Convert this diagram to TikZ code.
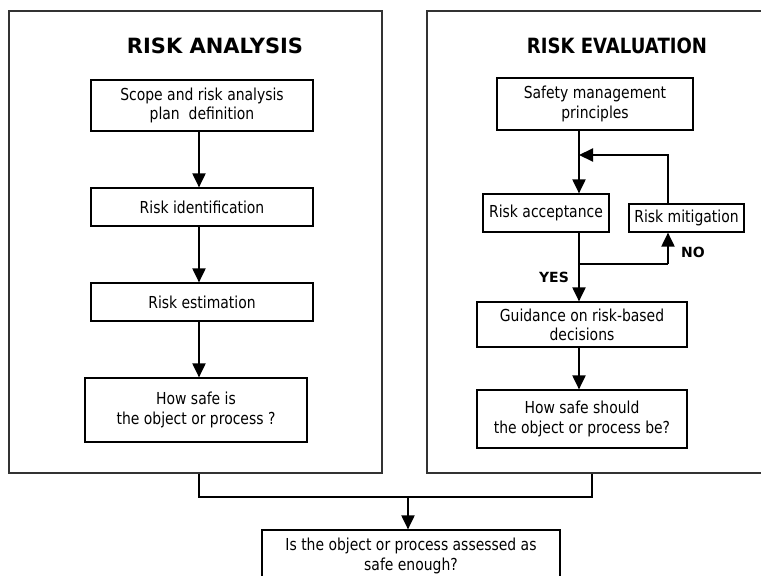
\documentclass[tikz,border=0pt]{standalone}
\usepackage{fontspec}
\setmainfont{DejaVu Sans}[FakeStretch=0.845]
\newfontfamily\ttlfont{DejaVu Sans}
\newfontfamily\ttlfontn{DejaVu Sans}[FakeStretch=0.86]
\usetikzlibrary{arrows.meta}
\begin{document}
\begin{tikzpicture}[x=1pt,y=-1pt,
  box/.style={draw, line width=1.2pt, inner sep=0pt, align=center, font=\fontsize{16.5}{19.2}\selectfont},
  panel/.style={draw=black!80, line width=1.3pt, inner sep=0pt},
  conn/.style={line width=2pt},
  arr/.style={conn, -{Triangle[length=14pt,width=13pt]}},
  ttl/.style={font=\bfseries\fontsize{21}{24}\selectfont, inner sep=0pt},
  lbl/.style={font=\ttlfont\bfseries\fontsize{14}{16}\selectfont, inner sep=0pt}]
\useasboundingbox (0,0) rectangle (761,576);
\begin{scope}
\clip (0,0) rectangle (761,576);
% panels
\node[panel, minimum width=373pt, minimum height=462pt] (pl) at (195.5,242) {};
\node[panel, minimum width=350pt, minimum height=462pt] (pr) at (602,242) {};
\node[ttl] (tl) at (215,45.5) {\ttlfont\bfseries RISK ANALYSIS};
\node[ttl] (tr) at (617,46) {\ttlfontn\bfseries RISK EVALUATION};
% left boxes
\node[box, minimum width=222pt, minimum height=51pt] (b1) at (202,105.5) {Scope and risk analysis\\plan\ \ definition};
\node[box, minimum width=222pt, minimum height=38pt] (b2) at (202,207) {Risk identification};
\node[box, minimum width=222pt, minimum height=38pt] (b3) at (202,302) {Risk estimation};
\node[box, minimum width=222pt, minimum height=64pt] (b4) at (196,410) {How safe is\\the object or process ?};
% right boxes
\node[box, minimum width=196pt, minimum height=52pt] (r1) at (595,104) {Safety management\\principles};
\node[box, minimum width=126pt, minimum height=38pt] (r2) at (546,213) {Risk acceptance};
\node[box, minimum width=115pt, minimum height=28pt] (r3) at (686.5,218) {Risk mitigation};
\node[box, minimum width=210pt, minimum height=45pt] (r4) at (582,324.5) {Guidance on risk-based\\decisions};
\node[box, minimum width=210pt, minimum height=58pt] (r5) at (582,419) {How safe should\\the object or process be?};
% bottom box
\node[box, minimum width=298pt, minimum height=52pt] (q) at (411,556) {Is the object or process assessed as\\safe enough?};
% helper coordinates
\coordinate (ax) at (199,0);
\coordinate (rx) at (579,0);
\coordinate (fb) at (668,155);
\coordinate (lp) at (579,264);
\coordinate (lq) at (668,264);
\coordinate (ja) at (199,497);
\coordinate (jb) at (592,497);
\coordinate (jq) at (408,497);
% left connectors
\draw[arr] (b1.south -| ax) -- (b2.north -| ax);
\draw[arr] (b2.south -| ax) -- (b3.north -| ax);
\draw[arr] (b3.south -| ax) -- (b4.north -| ax);
% right connectors
\draw[arr] (r1.south -| rx) -- (r2.north -| rx);
\draw[arr] (r3.north -| fb) -- (fb) -- (fb -| rx);
\draw[conn] (r2.south -| rx) -- (lp) -- (lq);
\draw[arr] (lq) -- (r3.south -| lq);
\draw[arr] (lp) -- (r4.north -| rx);
\draw[arr] (r4.south -| rx) -- (r5.north -| rx);
\node[lbl] (no) at (693,252.5) {NO};
\node[lbl] (yes) at (554,277.5) {YES};
% bottom connectors
\draw[conn] (pl.south -| ja) -- (ja) -- (jb) -- (pr.south -| jb);
\draw[arr] (jq) -- (q.north -| jq);
\end{scope}
\end{tikzpicture}
\end{document}
